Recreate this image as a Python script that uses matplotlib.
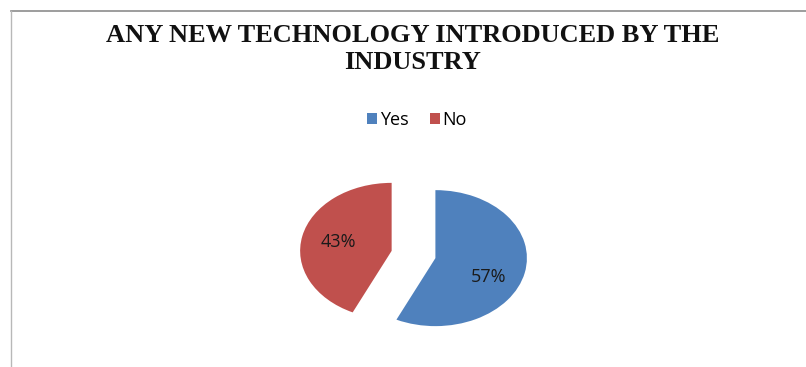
import matplotlib.pyplot as plt
from matplotlib.lines import Line2D

# Survey response: was any new technology introduced by the industry?
labels = ["Yes", "No"]
shares = [57, 43]
colors = ["#4F81BD", "#C0504D"]

title = "ANY NEW TECHNOLOGY INTRODUCED BY THE\nINDUSTRY"

fig = plt.figure(figsize=(8.06, 3.67), dpi=100)

# Chart area frame (top and left edges only are visible)
fig.add_artist(Line2D([11 / 806, 1.0], [1 - 11 / 367, 1 - 11 / 367],
                      color="#8c8c8c", linewidth=1.2))
fig.add_artist(Line2D([11 / 806, 11 / 806], [1 - 11 / 367, 0.0],
                      color="#b8b8b8", linewidth=1.0))

fig.text(413 / 806, 1 - 49 / 367, title, ha="center", va="center",
         fontfamily="Liberation Serif", fontweight="bold", fontsize=19,
         linespacing=1.2, color="#111111")

# Pie drawn as a flattened ellipse: unequal data scaling on x and y
ax = fig.add_axes([0.3314, 0.0101, 0.3633, 0.5929])
wedges, texts, autotexts = ax.pie(
    shares,
    colors=colors,
    startangle=90,
    counterclock=False,
    explode=[0.245, 0.245],
    autopct="%d%%",
    pctdistance=0.6,
    textprops={"fontfamily": "Open Sans", "fontsize": 13, "color": "#1a1a1a"},
)
ax.set_aspect("auto")
ax.set_xlim(-1.6, 1.6)
ax.set_ylim(-1.6, 1.6)
ax.axis("off")

# nudge the "Yes" percentage a little lower inside its wedge
x, y = autotexts[0].get_position()
autotexts[0].set_position((x, y - 0.15))

fig.legend(wedges, labels, loc="center", bbox_to_anchor=(417 / 806, 1 - 120 / 367),
           ncol=2, frameon=False, handlelength=0.55, handleheight=0.55,
           handletextpad=0.15, columnspacing=1.2,
           prop={"family": "Open Sans", "size": 13})

plt.savefig("out.png", dpi=100)
